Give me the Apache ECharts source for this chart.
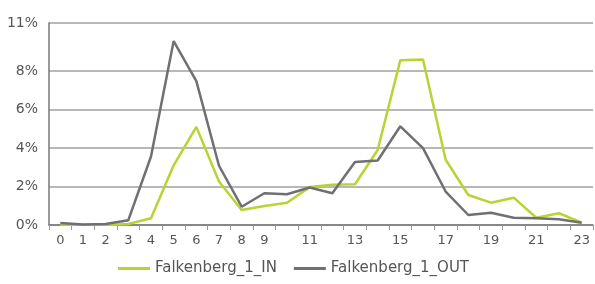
<!DOCTYPE html>
<html>
<head>
<meta charset="utf-8">
<script src="https://cdn.jsdelivr.net/npm/echarts@6/dist/echarts.min.js"></script>
<style>
  html, body { margin: 0; padding: 0; background: #fff; }
  #chart { width: 595px; height: 284px; }
</style>
</head>
<body>
<div id="chart"></div>
<script>
const hours = ['0', '1', '2', '3', '4', '5', '6', '7', '8', '9', '10', '11',
  '12', '13', '14', '15', '16', '17', '18', '19', '20', '21', '22', '23'];
// share of daily traffic per hour, percent
const inValues = [0, 0, 0, 0.05, 0.35, 3.1, 5.1, 2.26, 0.78, 0.99, 1.16, 1.97,
  2.09, 2.12, 3.9, 8.57, 8.6, 3.39, 1.56, 1.16, 1.42, 0.38, 0.61, 0.12];
const outValues = [0.1, 0.02, 0.05, 0.25, 3.56, 9.56, 7.48, 3.08, 0.95, 1.65, 1.6, 1.95,
  1.65, 3.27, 3.35, 5.13, 4.0, 1.74, 0.52, 0.64, 0.38, 0.35, 0.3, 0.12];
const seriesNames = ['Falkenberg_1_IN', 'Falkenberg_1_OUT'];

const FONT = 'DejaVu Sans';
const GRID_COLOR = '#a0a0a0';
const NONE = 'rgba(0,0,0,0)';

const chart = echarts.init(document.getElementById('chart'), null, { renderer: 'canvas' });
chart.setOption({
  animation: false,
  grid: { left: 49, right: 2, top: 23, bottom: 59 },
  legend: {
    bottom: 3,
    left: 113,
    itemWidth: 32,
    itemHeight: 3,
    itemGap: 17,
    icon: 'rect',
    textStyle: { fontFamily: FONT, fontSize: 15, color: '#555' },
    data: seriesNames
  },
  xAxis: {
    type: 'category',
    data: hours,
    boundaryGap: true,
    axisLine: { lineStyle: { color: '#777', width: 1.5 } },
    axisTick: { show: true, interval: 0, length: 5, lineStyle: { color: '#999' } },
    axisLabel: {
      interval: (i) => i <= 9 || i % 2 === 1,
      margin: 9,
      fontFamily: FONT,
      fontSize: 13,
      color: '#555'
    }
  },
  yAxis: {
    type: 'value',
    min: 0,
    max: 10.5,
    interval: 2,
    axisLine: { show: true, lineStyle: { color: '#777', width: 1.5 } },
    axisTick: { show: false },
    axisLabel: {
      margin: 11,
      fontFamily: FONT,
      fontSize: 14,
      color: '#555',
      showMaxLabel: true,
      formatter: (v) => (v === 10 ? '' : Math.round(v) + '%')
    },
    splitLine: {
      showMaxLine: true,
      lineStyle: {
        width: 1.5,
        color: [GRID_COLOR, GRID_COLOR, GRID_COLOR, GRID_COLOR, GRID_COLOR, NONE, GRID_COLOR]
      }
    }
  },
  series: [
    {
      name: seriesNames[0],
      type: 'line',
      data: inValues,
      symbol: 'none',
      lineStyle: { color: '#b8d432', width: 2.5 },
      itemStyle: { color: '#b8d432' }
    },
    {
      name: seriesNames[1],
      type: 'line',
      data: outValues,
      symbol: 'none',
      lineStyle: { color: '#6f7073', width: 2.5 },
      itemStyle: { color: '#6f7073' }
    }
  ]
});
</script>
</body>
</html>
